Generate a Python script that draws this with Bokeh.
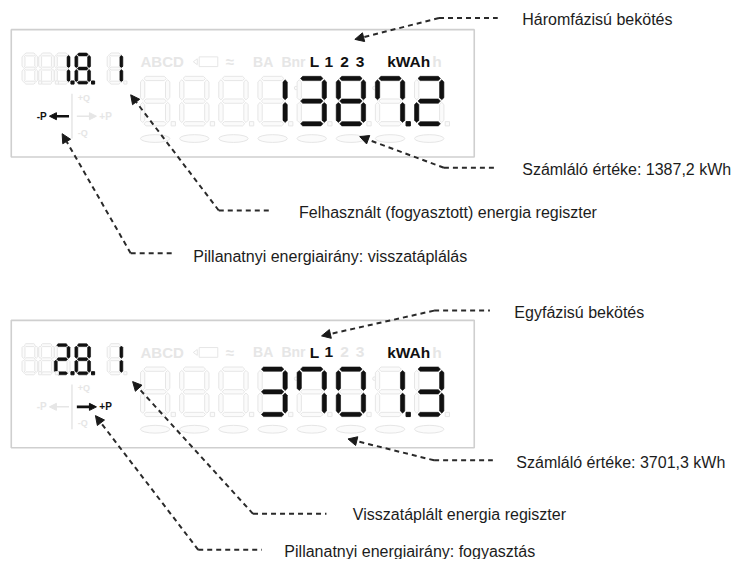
from bokeh.plotting import figure
from bokeh.models import Range1d, Arrow, NormalHead
from bokeh.core.properties import value
from bokeh.embed import file_html
from bokeh.resources import INLINE

# ---------------- data ----------------
register_codes = ["1.8.1", "2.8.1"]
meter_readings = ["1387.2", "3701.3"]
phase_symbols = ["L", "1", "2", "3"]
active_phases = [["L", "1", "2", "3"], ["L", "1"]]
unit_label = "kWAh"
direction_labels = ["-P", "+P"]
active_direction = ["-P", "+P"]
ghost_labels = ["ABCD", "≈", "BA", "Bnr"]
phase_captions = ["Háromfázisú bekötés", "Egyfázisú bekötés"]
reading_captions = ["Számláló értéke: 1387,2 kWh", "Számláló értéke: 3701,3 kWh"]
register_captions = ["Felhasznált (fogyasztott) energia regiszter",
                     "Visszatáplált energia regiszter"]
direction_captions = ["Pillanatnyi energiairány: visszatáplálás",
                      "Pillanatnyi energiairány: fogyasztás"]

# ---------------- layout ----------------
PANEL_TOP = [30, 329]
BOX_L, BOX_R, BOX_H = 11, 484, 131
SMALL_LEFTS = [22, 39, 55, 76, 109]
BIG_LEFTS = [143 + 40 * i for i in range(8)]
PHASE_X = [316, 331, 347, 363]

# callouts: (tip, corner, end_x, label_xy) per panel: phase, reading, register, direction
CALLOUTS = [
    [((362, 40), (448, 18), 508, (533, 20)),
     ((367, 140), (453, 172), 505, (533, 174)),
     ((133, 97), (223, 216), 277, (305, 218)),
     ((63, 137), (133, 260), 175, (197, 263))],
    [((328, 345), (443, 319), 500, (525, 321)),
     ((355, 451), (443, 473), 503, (527, 475)),
     ((135, 392), (258, 528), 333, (360, 529)),
     ((97, 427), (202, 565), 267, (290, 567))],
]

SEGMAP = {'0': 'abcdef', '1': 'bc', '2': 'abdeg', '3': 'abcdg', '4': 'bcfg',
          '5': 'acdfg', '6': 'acdefg', '7': 'abcf', '8': 'abcdefg', '9': 'abcdfg'}

GHOST_LINE = "#e6e6e6"
GHOST_FILL = "#fbfbfb"
INK = "#111111"
FONT = value("Liberation Sans")


def seg_polys(x0, y0, w, h, t):
    L = x0 + t / 2
    R = x0 + w - t / 2
    T = y0 + t / 2
    M = y0 + h / 2
    B = y0 + h - t / 2
    g = t * 0.3
    d = t / 2

    def hseg(x1, x2, y):
        x1 += g
        x2 -= g
        return [x1, x1 + d, x2 - d, x2, x2 - d, x1 + d], [y, y - d, y - d, y, y + d, y + d]

    def vseg(x, y1, y2):
        y1 += g
        y2 -= g
        return [x, x + d, x + d, x, x - d, x - d], [y1, y1 + d, y2 - d, y2, y2 - d, y1 + d]

    return {'a': hseg(L, R, T), 'b': vseg(R, T, M), 'c': vseg(R, M, B),
            'd': hseg(L, R, B), 'e': vseg(L, M, B), 'f': vseg(L, T, M),
            'g': hseg(L, R, M)}


def parse(s, ncells):
    cells = []
    for ch in s:
        if ch == '.':
            cells[-1] = (cells[-1][0], True)
        else:
            cells.append((ch, False))
    pad = [(None, False)] * (ncells - len(cells))
    return pad + cells


p = figure(width=739, height=559, x_range=Range1d(0, 755), y_range=Range1d(575, 0),
           output_backend="svg", toolbar_location=None, x_axis_type=None, y_axis_type=None,
           min_border=0)
p.grid.visible = False
p.outline_line_color = None
p.background_fill_color = "white"

gx, gy, lx, ly = [], [], [], []
dots_ghost = dict(l=[], r=[], t=[], b=[])
dots_lit = dict(l=[], r=[], t=[], b=[])


def add_digits(lefts, top, w, h, t, text, dotsize):
    cells = parse(text, len(lefts))
    for left, (ch, dot) in zip(lefts, cells):
        polys = seg_polys(left, top, w, h, t)
        lit = SEGMAP.get(ch, '') if ch else ''
        for s, (xs, ys) in polys.items():
            if s in lit:
                lx.append(xs); ly.append(ys)
            else:
                gx.append(xs); gy.append(ys)
        cx = left + w + dotsize * 0.8
        cy = top + h - dotsize / 2
        target = dots_lit if dot else dots_ghost
        target['l'].append(cx - dotsize / 2); target['r'].append(cx + dotsize / 2)
        target['t'].append(cy - dotsize / 2); target['b'].append(cy + dotsize / 2)


texts = dict(x=[], y=[], text=[], color=[], size=[], style=[])


def add_text(x, y, s, color, size, style="normal"):
    texts['x'].append(x); texts['y'].append(y); texts['text'].append(s)
    texts['color'].append(color); texts['size'].append(size)
    texts['style'].append(style)


for i, oy in enumerate(PANEL_TOP):
    # frame
    p.quad(left=BOX_L, right=BOX_R, top=oy, bottom=oy + BOX_H, fill_color=None,
           line_color="#cfcfcf", line_width=1.6)
    # digits
    add_digits(SMALL_LEFTS, oy + 24, 16, 32, 3.0, register_codes[i], 3.2)
    add_digits(BIG_LEFTS, oy + 48, 30, 51, 4.4, meter_readings[i], 4.4)
    # ghost colon dots
    for cxd in (302, 382):
        p.circle(x=[cxd], y=[oy + 60], radius=1.8, fill_color=GHOST_FILL, line_color=GHOST_LINE)
    # ovals
    p.ellipse(x=[l + 15 for l in BIG_LEFTS], y=[oy + 112] * 8, width=30, height=8,
              fill_color=GHOST_FILL, line_color=GHOST_LINE, line_width=1)
    # ghost labels
    add_text(143, oy + 33, ghost_labels[0], GHOST_LINE, "15px", "bold")
    p.quad(left=203, right=222, top=oy + 28, bottom=oy + 38, fill_color=None, line_color=GHOST_LINE)
    p.patch([197, 201, 201], [oy + 33, oy + 30, oy + 36], fill_color=None, line_color=GHOST_LINE)
    add_text(230, oy + 33, ghost_labels[1], GHOST_LINE, "15px", "bold")
    add_text(258, oy + 33, ghost_labels[2], GHOST_LINE, "14px", "bold")
    add_text(287, oy + 33, ghost_labels[3], GHOST_LINE, "14px", "bold")
    # phase symbols
    for px_, sym in zip(PHASE_X, phase_symbols):
        col = INK if sym in active_phases[i] else GHOST_LINE
        add_text(px_, oy + 33, sym, col, "15.5px", "bold")
    add_text(395, oy + 33, unit_label, INK, "15.5px", "bold")
    add_text(441, oy + 33, "h", GHOST_LINE, "15.5px", "bold")
    # direction indicators
    dy = oy + 89
    for lab, (tx, a0, a1) in zip(direction_labels, [(37, 70, 50), (101, 78, 98)]):
        lit = lab == active_direction[i]
        col = INK if lit else GHOST_LINE
        add_text(tx, dy, lab, col, "10px", "bold")
        p.add_layout(Arrow(x_start=a0, y_start=dy, x_end=a1, y_end=dy, line_color=col,
                           line_width=2.6 if lit else 1.5,
                           end=NormalHead(size=7, fill_color=col, line_color=col)))
    p.segment(x0=[73], y0=[oy + 66], x1=[73], y1=[oy + 112], line_color=GHOST_LINE, line_width=1.5)
    add_text(79, oy + 70, "+Q", GHOST_LINE, "9px", "bold")
    add_text(79, oy + 106, "-Q", GHOST_LINE, "9px", "bold")

p.patches(gx, gy, fill_color=GHOST_FILL, line_color=GHOST_LINE, line_width=1)
p.patches(lx, ly, fill_color=INK, line_color=INK, line_width=0.6)
p.quad(left=dots_ghost['l'], right=dots_ghost['r'], top=dots_ghost['t'], bottom=dots_ghost['b'],
       fill_color=GHOST_FILL, line_color=GHOST_LINE)
p.quad(left=dots_lit['l'], right=dots_lit['r'], top=dots_lit['t'], bottom=dots_lit['b'],
       fill_color=INK, line_color=INK)

for s in set(texts['style']):
    for sz in set(texts['size']):
        idx = [k for k in range(len(texts['x'])) if texts['style'][k] == s and texts['size'][k] == sz]
        if not idx:
            continue
        p.text(x=[texts['x'][k] for k in idx], y=[texts['y'][k] for k in idx],
               text=[texts['text'][k] for k in idx],
               text_color=[texts['color'][k] for k in idx],
               text_font=FONT, text_font_size=value(sz), text_font_style=s,
               text_baseline="middle", text_align="left")

# callouts
captions = list(zip(phase_captions, reading_captions, register_captions, direction_captions))
for i in range(2):
    for (tip, corner, endx, (lab_x, lab_y)), cap in zip(CALLOUTS[i], captions[i]):
        p.add_layout(Arrow(x_start=corner[0], y_start=corner[1], x_end=tip[0], y_end=tip[1],
                           line_color="#2a2a2a", line_width=2, line_dash="5 4",
                           end=NormalHead(size=9, fill_color="#1a1a1a", line_color="#1a1a1a")))
        p.segment(x0=[corner[0]], y0=[corner[1]], x1=[endx], y1=[corner[1]],
                  line_color="#2a2a2a", line_width=2, line_dash="5 4")
        p.text(x=[lab_x], y=[lab_y], text=[cap], text_color="#1c1c1c", text_font=FONT,
               text_font_size=value("16px"), text_baseline="middle", text_align="left")

open("out.html", "w").write(file_html(p, INLINE))
